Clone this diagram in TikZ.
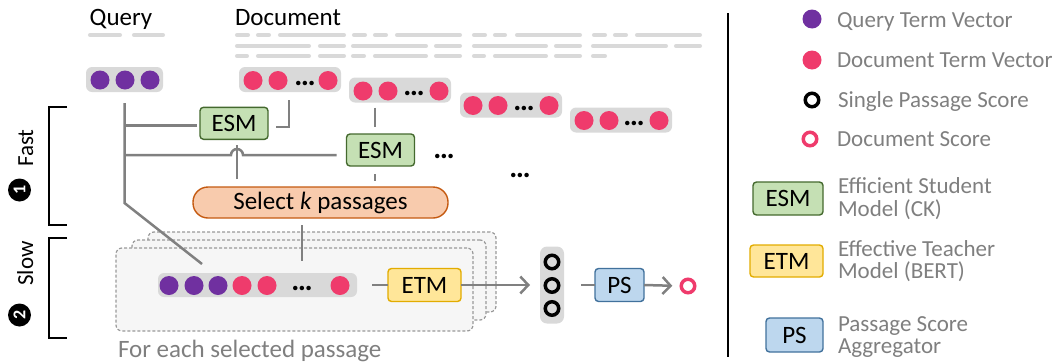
\documentclass[tikz,border=0pt]{standalone}
\usepackage{fontspec}
\setmainfont{Carlito}
\usetikzlibrary{arrows.meta}
\definecolor{qpur}{HTML}{7030A0}
\definecolor{dpink}{HTML}{EF3B6C}
\definecolor{vecbg}{HTML}{D9D9D9}
\definecolor{txtgray}{HTML}{D9D9D9}
\definecolor{lngray}{HTML}{808080}
\definecolor{esmf}{HTML}{C5E0B4}
\definecolor{esmd}{HTML}{44692E}
\definecolor{self}{HTML}{F8CBAD}
\definecolor{seld}{HTML}{C55A11}
\definecolor{etmf}{HTML}{FFE699}
\definecolor{etmd}{HTML}{E2AC00}
\definecolor{psf}{HTML}{BDD7EE}
\definecolor{psd}{HTML}{41719C}
\definecolor{stackf}{HTML}{F6F6F6}
\definecolor{stackd}{HTML}{999999}
\definecolor{legt}{HTML}{7F7F7F}
\begin{document}
\begin{tikzpicture}[x=1pt,y=-1pt,
  every node/.style={inner sep=0pt, outer sep=0pt},
  txtl/.style={draw=txtgray, line width=4.5pt, line cap=round},
  vecbox/.style={fill=vecbg, rounded corners=6pt},
  qdot/.style={circle, fill=qpur, minimum size=19pt},
  ddot/.style={circle, fill=dpink, minimum size=19pt},
  ell/.style={font=\fontsize{30}{30}\selectfont\bfseries, anchor=base},
  model/.style={line width=1.4pt, rounded corners=3.5pt, font=\fontsize{25}{28}\selectfont},
  esm/.style={model, draw=esmd, fill=esmf, minimum width=68pt, minimum height=32pt},
  etm/.style={model, draw=etmd, fill=etmf, minimum width=73pt, minimum height=33pt},
  psbox/.style={model, draw=psd, fill=psf, minimum width=49pt, minimum height=33pt},
  conn/.style={draw=lngray, line width=2.5pt},
  arr/.style={conn, -{Straight Barb[length=8pt,width=17pt]}},
  ring/.style={circle, draw=black, line width=3.5pt, minimum size=13.5pt},
  stack/.style={draw=stackd, dash pattern=on 3pt off 2pt, fill=stackf, line width=1.2pt, rounded corners=6pt},
  legtxt/.style={anchor=base west, text=legt, font=\fontsize{23}{27}\selectfont},
  lbl/.style={font=\fontsize{25}{30}\selectfont},
  side/.style={font=\fontsize{23}{24}\selectfont, rotate=90, anchor=base},
  numdot/.style={circle, fill=black, minimum size=23pt, text=white, font=\fontsize{18}{18}\selectfont\bfseries}]
\useasboundingbox (0,0) rectangle (1062,362);

% ---------- headings and text lines ----------
\node[lbl, anchor=base] (qlab) at (121,25) {Query};
\node[lbl, anchor=base west] (dlab) at (235,25) {Document};
\foreach \a/\b in {88/122,132/165}
  \draw[txtl] (\a+2.2,35) -- (\b-2.2,35);
\foreach \a/\b in {235/250,256/271,278/346,352/367,373/388,395/462,472/487,493/507,515/582,592/607,613/628,635/702}
  \draw[txtl] (\a+2.2,35) -- (\b-2.2,35);
\foreach \a/\b in {235/311,318/346,351/428,434/462,472/548,554/582,591/668,674/702}
  \draw[txtl] (\a+2.2,46) -- (\b-2.2,46);
\foreach \a/\b in {235/249,256/311,318/346,351/366,373/428,434/462,472/486,493/548,554/582,591/607}
  \draw[txtl] (\a+2.2,56) -- (\b-2.2,56);

% ---------- term vectors ----------
\node[vecbox, minimum width=77pt, minimum height=25pt] (qv) at (124.5,79.5) {};
\node[qdot] (q1) at (100,80) {};
\node[qdot] (q2) at (125,80) {};
\node[qdot] (q3) at (150,80) {};

\node[vecbox, minimum width=102pt, minimum height=25pt] (dv1) at (290,79.5) {};
\node[ddot] (d11) at (253,80.5) {};
\node[ddot] (d12) at (278,80.5) {};
\node[ell] (d1e) at (305,85) {…};
\node[ddot] (d13) at (328,80.5) {};

\node[vecbox, minimum width=102pt, minimum height=25pt] (dv2) at (400,90) {};
\node[ddot] (d21) at (363,91) {};
\node[ddot] (d22) at (388,91) {};
\node[ell] (d2e) at (414,95) {…};
\node[ddot] (d23) at (439,91) {};

\node[vecbox, minimum width=102pt, minimum height=25pt] (dv3) at (511,105) {};
\node[ddot] (d31) at (473,105.5) {};
\node[ddot] (d32) at (498,105.5) {};
\node[ell] (d3e) at (524,110) {…};
\node[ddot] (d33) at (549,105.5) {};

\node[vecbox, minimum width=102pt, minimum height=25pt] (dv4) at (621,120) {};
\node[ddot] (d41) at (584,120.5) {};
\node[ddot] (d42) at (609,120.5) {};
\node[ell] (d4e) at (634,125) {…};
\node[ddot] (d43) at (659,120.5) {};

% ---------- fast stage ----------
\node[esm] (esm1) at (234,123.3) {ESM};
\node[esm] (esm2) at (380.5,150) {ESM};
\node[ell] (e1) at (444,158) {…};
\node[ell] (e2) at (520,177) {…};
\node[model, draw=seld, fill=self, minimum width=255pt, minimum height=31pt, rounded corners=15pt] (sel) at (320.5,202.5) {Select \textit{k} passages};

% ---------- slow stage ----------
\node[stack, minimum width=348pt, minimum height=80pt] (stk3) at (322,272) {};
\node[stack, minimum width=354pt, minimum height=80pt] (stk2) at (309,280) {};
\node[stack, minimum width=357pt, minimum height=83pt] (stk1) at (294.5,289.5) {};
\node[lbl, anchor=base west, text=legt] (each) at (118,357) {For each selected passage};

\node[vecbox, minimum width=199pt, minimum height=24pt] (cv) at (257.5,285) {};
\node[qdot] (c1) at (169,285.5) {};
\node[qdot] (c2) at (194,285.5) {};
\node[qdot] (c3) at (218,285.5) {};
\node[ddot] (c4) at (242,285.5) {};
\node[ddot] (c5) at (267,285.5) {};
\node[ell] (ce) at (302,290) {…};
\node[ddot] (c6) at (340,285.5) {};

\node[etm] (etm) at (424.5,285) {ETM};
\node[vecbox, minimum width=24pt, minimum height=77pt, rounded corners=7pt] (sc) at (552,285) {};
\node[ring] (s1) at (552,262) {};
\node[ring] (s2) at (552,285.5) {};
\node[ring] (s3) at (552,308.5) {};
\node[psbox] (ps) at (619.5,285) {PS};
\node[ring, draw=dpink] (dscore) at (688,286) {};

% ---------- connectors ----------
\coordinate (qbend) at (124.5,203);
\coordinate (qend) at (202,264);
\draw[conn, shorten <=11pt] (qv.south) -- (qbend) -- (qend);
\coordinate (h1) at (124.5,125.5);
\draw[conn, shorten >=3pt] (h1) -- (h1 -| esm1.west);
\coordinate (h2) at (124.5,155);
\coordinate (hopL) at (231,155);
\draw[conn, shorten >=10pt] (h2) -- (hopL) arc[start angle=180, end angle=360, radius=6] -- (hopL -| esm2.west);
\coordinate (v1) at (237,0);
\draw[conn, shorten <=8pt, shorten >=6pt] (sel.north -| v1) -- (esm1.south -| v1);
\coordinate (k1) at (289,127);
\draw[conn, shorten <=8pt, shorten >=8pt] (dv1.south -| k1) -- (k1) -- (k1 -| esm1.east);
\coordinate (v2) at (375,0);
\draw[conn, shorten <=5pt, shorten >=7pt] (dv2.south -| v2) -- (esm2.north -| v2);
\draw[conn, shorten <=8pt, shorten >=6pt] (esm2.south -| v2) -- (sel.north -| v2);
\coordinate (v3) at (302,0);
\draw[conn, shorten <=7pt, shorten >=12pt] (sel.south -| v3) -- (cv.north -| v3);
\draw[conn, shorten <=15pt] (cv.east) -- (etm.west);
\draw[arr, shorten >=10pt] (etm.east) -- (sc.west);
\draw[conn, shorten <=17pt] (sc.east) -- (ps.west);
\draw[arr, shorten >=9pt] (ps.east) -- (dscore.west);

% ---------- stage brackets ----------
\draw[line width=1.8pt] (67,107) -- (49,107) -- (49,225) -- (67,225);
\draw[line width=1.8pt] (67,238) -- (49,238) -- (49,338) -- (67,338);
\node[side] (fast) at (33,148) {Fast};
\node[numdot] (n1) at (19.5,190) {\rotatebox{90}{1}};
\node[side] (slow) at (33,263.5) {Slow};
\node[numdot] (n2) at (19.5,315) {\rotatebox{90}{2}};

% ---------- legend ----------
\draw[line width=1.8pt] (728,13) -- (728,357);
\node[qdot] (lq) at (812,19) {};
\node[legtxt] (lqt) at (837,27) {Query Term Vector};
\node[ddot] (ld) at (812,60) {};
\node[legtxt] (ldt) at (837,67) {Document Term Vector};
\node[ring] (ls) at (812,100) {};
\node[legtxt] (lst) at (838,107) {Single Passage Score};
\node[ring, draw=dpink] (lds) at (810,139) {};
\node[legtxt] (ldst) at (837,146) {Document Score};
\node[esm, minimum width=70pt, minimum height=33pt] (lesm) at (788,198.5) {ESM};
\node[legtxt] (lesm1) at (838,193) {Efficient Student};
\node[legtxt] (lesm2) at (838,216) {Model (CK)};
\node[etm, minimum width=73pt, minimum height=32pt] (letm) at (786.5,261) {ETM};
\node[legtxt] (letm1) at (838,256) {Effective Teacher};
\node[legtxt] (letm2) at (838,278) {Model (BERT)};
\node[psbox, minimum width=57pt, minimum height=34pt] (lps) at (794.5,335) {PS};
\node[legtxt] (lps1) at (838,331) {Passage Score};
\node[legtxt] (lps2) at (838,353) {Aggregator};
\end{tikzpicture}
\end{document}
